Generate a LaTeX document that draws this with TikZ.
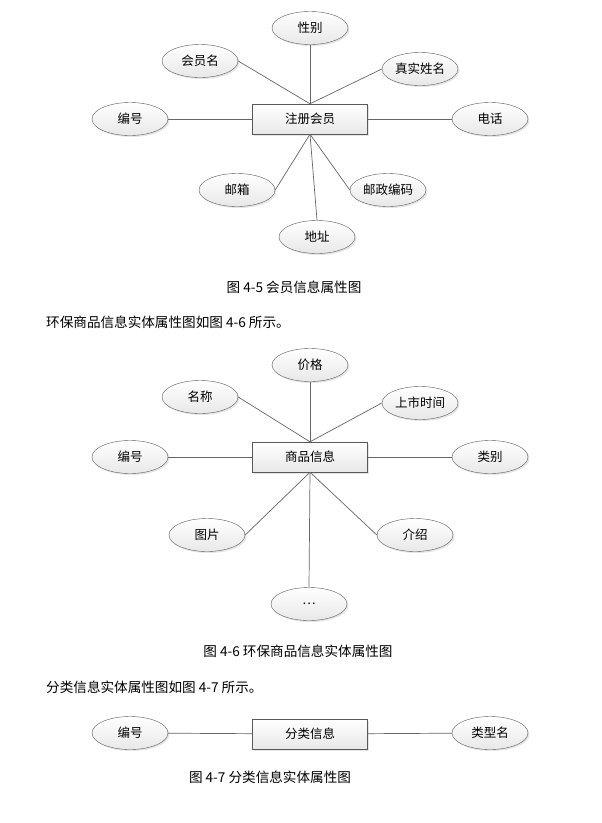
\documentclass[tikz,border=0pt]{standalone}
\usepackage{fontspec}
\setmainfont{Noto Sans CJK SC}
\usetikzlibrary{shapes.geometric,shadows}

\begin{document}
\begin{tikzpicture}[
    x=1pt, y=-1pt,
    attr/.style={ellipse, draw=black!65, top color=white, bottom color=gray!18, minimum width=76pt, minimum height=33pt, inner sep=0pt, font=\fontsize{12.5}{14}\selectfont, drop shadow={opacity=0.2, shadow xshift=1.5pt, shadow yshift=-1.5pt}},
    entity/.style={rectangle, draw=black!65, top color=white, bottom color=gray!18, minimum width=115pt, minimum height=30pt, inner sep=0pt, font=\fontsize{12.5}{14}\selectfont, drop shadow={opacity=0.2, shadow xshift=1.5pt, shadow yshift=-1.5pt}},
    link/.style={draw=black!60, line width=0.7pt},
    caption/.style={font=\fontsize{13.6}{15}\selectfont, inner sep=0pt}
]
\useasboundingbox[fill=white] (0,0) rectangle (602,823);

% Member entity
\node[entity] (member) at (310,119) {注册会员};
\node[attr] (m_sex) at (310,28) {性别};
\node[attr] (m_name) at (200,61) {会员名};
\node[attr] (m_real) at (420,69) {真实姓名};
\node[attr] (m_id) at (130,119) {编号};
\node[attr] (m_tel) at (490,119) {电话};
\node[attr] (m_mail) at (237,190) {邮箱};
\node[attr] (m_zip) at (388,190) {邮政编码};
\node[attr] (m_addr) at (317,237) {地址};
\node[caption] (cap1) at (294,287) {图 4-5 会员信息属性图};

\draw[link] (member.north) -- (m_sex.south);
\draw[link] (member.north) -- (m_name.east);
\draw[link] (member.north) -- (m_real.west);
\draw[link] (m_id) -- (member);
\draw[link] (member) -- (m_tel);
\draw[link] (member.south) -- (m_mail.east);
\draw[link] (member.south) -- (m_addr.north);
\draw[link] (member.south) -- (m_zip.west);

% Goods entity
\node[caption, anchor=west] (txt2) at (46,322) {环保商品信息实体属性图如图 4-6 所示。};
\node[entity] (goods) at (310,457) {商品信息};
\node[attr] (g_price) at (310,365) {价格};
\node[attr] (g_name) at (200,397) {名称};
\node[attr] (g_date) at (420,403) {上市时间};
\node[attr] (g_id) at (130,457) {编号};
\node[attr] (g_type) at (490,457) {类别};
\node[attr] (g_pic) at (207,535) {图片};
\node[attr] (g_intro) at (415,535) {介绍};
\node[attr] (g_more) at (309,604) {…};
\node[caption] (cap2) at (298,651) {图 4-6 环保商品信息实体属性图};

\draw[link] (goods.north) -- (g_price.south);
\draw[link] (goods.north) -- (g_name.east);
\draw[link] (goods.north) -- (g_date.west);
\draw[link] (g_id) -- (goods);
\draw[link] (goods) -- (g_type);
\draw[link] (goods.south) -- (g_pic.east);
\draw[link] (goods.south) -- (g_more.north);
\draw[link] (goods.south) -- (g_intro.west);

% Category entity
\node[caption, anchor=west] (txt3) at (46,687) {分类信息实体属性图如图 4-7 所示。};
\node[entity] (cat) at (310,734) {分类信息};
\node[attr] (c_id) at (130,733) {编号};
\node[attr] (c_name) at (490,733) {类型名};
\node[caption] (cap3) at (270,777) {图 4-7 分类信息实体属性图};

\draw[link] (c_id) -- (cat);
\draw[link] (cat) -- (c_name);

\end{tikzpicture}
\end{document}
